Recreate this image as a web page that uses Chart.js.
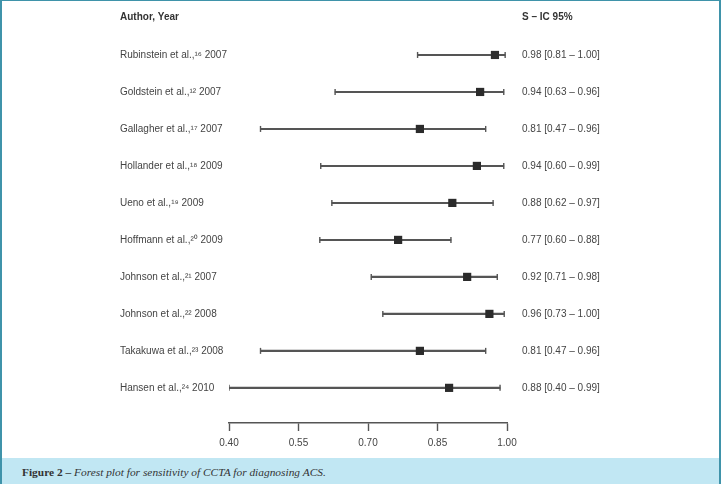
<!DOCTYPE html>
<html>
<head>
<meta charset="utf-8">
<script src="https://cdn.jsdelivr.net/npm/chart.js@4.4.1/dist/chart.umd.min.js"></script>
<style>
  body { margin: 0; background: #fff; }
  #frame {
    position: absolute; left: 0; top: 0;
    width: 721px; height: 484px;
    box-sizing: border-box;
    border-left: 2px solid #3f93aa;
    border-right: 2px solid #3f93aa;
    border-top: 1px solid #3f93aa;
  }
  #plot { position: relative; width: 717px; height: 457px; }
  #caption {
    height: 26px; background: #c1e7f3;
    font-family: "Liberation Serif", serif; font-size: 11.4px; color: #333;
    line-height: 28px; padding-left: 20px;
  }
</style>
</head>
<body>
<div id="frame">
  <div id="plot"><canvas id="forest"></canvas></div>
  <div id="caption"><b>Figure 2 –</b> <i>Forest plot for sensitivity of CCTA for diagnosing ACS.</i></div>
</div>
<script>
// study labels, top to bottom
const studies = [
    'Rubinstein et al.,¹⁶ 2007',
    'Goldstein et al.,¹² 2007',
    'Gallagher et al.,¹⁷ 2007',
    'Hollander et al.,¹⁸ 2009',
    'Ueno et al.,¹⁹ 2009',
    'Hoffmann et al.,²⁰ 2009',
    'Johnson et al.,²¹ 2007',
    'Johnson et al.,²² 2008',
    'Takakuwa et al.,²³ 2008',
    'Hansen et al.,²⁴ 2010'
];
const ciLabels = [
    '0.98 [0.81 – 1.00]',
    '0.94 [0.63 – 0.96]',
    '0.81 [0.47 – 0.96]',
    '0.94 [0.60 – 0.99]',
    '0.88 [0.62 – 0.97]',
    '0.77 [0.60 – 0.88]',
    '0.92 [0.71 – 0.98]',
    '0.96 [0.73 – 1.00]',
    '0.81 [0.47 – 0.96]',
    '0.88 [0.40 – 0.99]'
];
// values as drawn in the plot
const sensitivity = [0.974, 0.942, 0.812, 0.935, 0.882, 0.765, 0.914, 0.962, 0.812, 0.875];
const lower = [0.807, 0.629, 0.468, 0.598, 0.622, 0.596, 0.707, 0.732, 0.468, 0.400];
const upper = [0.996, 0.993, 0.954, 0.993, 0.970, 0.879, 0.979, 0.994, 0.954, 0.985];
const xTicks = [0.40, 0.55, 0.70, 0.85, 1.00];
const leftHeader = 'Author, Year';
const rightHeader = 'S – IC 95%';

const rows = studies.map((s, i) => i);
const headerRow = -1.03;
const tickRows = [headerRow].concat(rows);
const textFont = 'Liberation Sans, Arial, sans-serif';
const fontSize = 10;

const whiskers = rows.map(i => ({ x: [lower[i], upper[i]], y: i }));
const caps = [];
rows.forEach(i => {
    caps.push({ x: lower[i], y: i });
    caps.push({ x: upper[i], y: i });
});
const points = rows.map(i => ({ x: sensitivity[i], y: i }));

const rowTicks = axis => { axis.ticks = tickRows.map(v => ({ value: v })); };
const labelFont = ctx => ({
    family: textFont, size: fontSize, weight: ctx.index === 0 ? 'bold' : 'normal'
});

// long study names may run a little past the plot edge, so let them show
const labelRoom = {
    id: 'labelRoom',
    afterLayout(chart) { chart.scales.y.right += 12; }
};

new Chart(document.getElementById('forest'), {
    type: 'scatter',
    data: {
        datasets: [
            {
                type: 'bar',
                indexAxis: 'y',
                data: whiskers,
                backgroundColor: '#555',
                borderWidth: 0,
                barThickness: 1.4,
                order: 3
            },
            {
                data: caps,
                pointStyle: 'line',
                rotation: 90,
                radius: 3,
                borderColor: '#555',
                borderWidth: 1.4,
                order: 2
            },
            {
                data: points,
                pointStyle: 'rect',
                radius: 5.8,
                backgroundColor: '#2b2b2b',
                borderColor: '#2b2b2b',
                borderWidth: 0,
                order: 1
            }
        ]
    },
    plugins: [labelRoom],
    options: {
        responsive: true,
        maintainAspectRatio: false,
        animation: false,
        layout: { padding: { left: 118, top: 24, bottom: 0, right: 0 } },
        plugins: { legend: { display: false }, tooltip: { enabled: false } },
        scales: {
            x: {
                type: 'linear',
                min: 0.4,
                max: 1.0,
                afterBuildTicks: axis => { axis.ticks = xTicks.map(v => ({ value: v })); },
                afterFit: axis => { axis.height = 35; },
                border: { display: true, color: '#555', width: 1.4 },
                grid: { drawOnChartArea: false, drawTicks: true, tickLength: 8, tickColor: '#555', tickWidth: 1.4 },
                ticks: {
                    padding: 6,
                    color: '#444',
                    font: { family: textFont, size: fontSize },
                    callback: v => Number(v).toFixed(2)
                }
            },
            y: {
                type: 'linear',
                position: 'left',
                reverse: true,
                offset: false,
                min: -0.81,
                max: 9.95,
                afterBuildTicks: rowTicks,
                afterFit: axis => { axis.width = 109; },
                border: { display: false },
                grid: { display: false, offset: false },
                ticks: {
                    autoSkip: false,
                    crossAlign: 'far',
                    color: ctx => ctx.index === 0 ? '#333' : '#444',
                    font: labelFont,
                    callback: (v, i) => i === 0 ? leftHeader : studies[i - 1]
                }
            },
            y2: {
                type: 'linear',
                position: 'right',
                reverse: true,
                min: -0.81,
                max: 9.95,
                afterBuildTicks: rowTicks,
                afterFit: axis => { axis.width = 212; },
                border: { display: false },
                grid: { display: false, drawTicks: false },
                ticks: {
                    autoSkip: false,
                    crossAlign: 'near',
                    padding: 15,
                    color: ctx => ctx.index === 0 ? '#333' : '#444',
                    font: labelFont,
                    callback: (v, i) => i === 0 ? rightHeader : ciLabels[i - 1]
                }
            }
        }
    }
});
</script>
</body>
</html>
